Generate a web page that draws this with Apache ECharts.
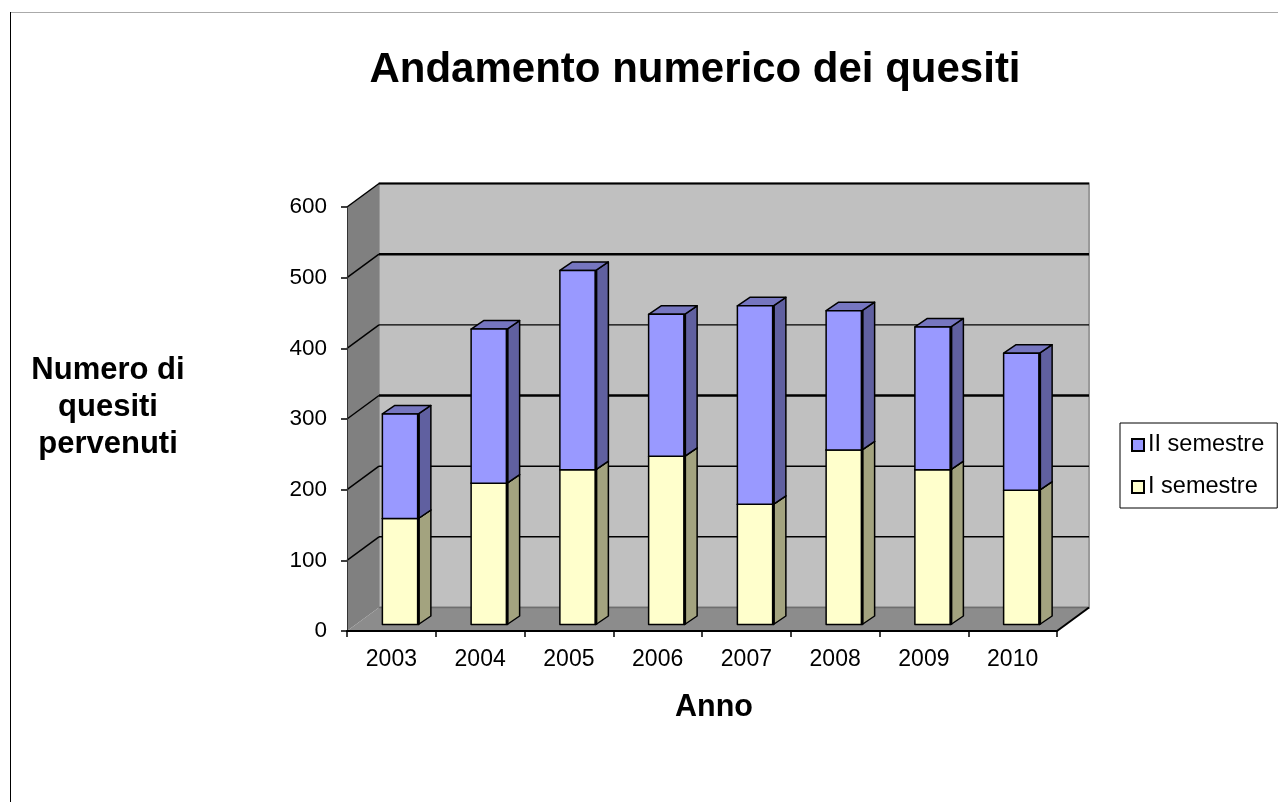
<!DOCTYPE html>
<html><head><meta charset="utf-8">
<style>html,body{margin:0;padding:0;background:#fff}#c{width:1278px;height:802px}</style>
<script src="https://cdn.jsdelivr.net/npm/echarts@6/dist/echarts.min.js"></script>
</head><body><div id="c"></div>
<script>
const years = ['2003','2004','2005','2006','2007','2008','2009','2010'];
const semesterOne = [150,200,219,238,170,247,219,190];
const semesterTwo = [148,218,282,201,281,197,202,194];
const yTicks = [0,100,200,300,400,500,600];
const gridWidths = {100:1.5,200:1.5,300:2.5,400:1.2,500:2.5,600:2};
const yAxisTitle = 'Numero di\nquesiti\npervenuti';

const FONT = '"Liberation Sans", Arial, sans-serif';
const DX = 32, DY = -23.5;          // full depth of the plot box
const BAR_W = 36, BAR_DX = 9, BAR_DY = -6.5, SIDE_DX = 12.5, SIDE_DY = -8.5;

function bar(colors) {
  return function (params, api) {
    const i = api.value(0);
    const p0 = api.coord([i, api.value(1)]);
    const p1 = api.coord([i, api.value(2)]);
    const x0 = p0[0] + BAR_DX - BAR_W / 2, x1 = x0 + BAR_W;
    const yb = p0[1] + BAR_DY, yt = p1[1] + BAR_DY;
    const stroke = {stroke:'#000', lineWidth:1.5, lineJoin:'round'};
    return {type:'group', children:[
      {type:'polygon', shape:{points:[[x1,yb],[x1+SIDE_DX,yb+SIDE_DY],[x1+SIDE_DX,yt+SIDE_DY],[x1,yt]]},
        style:Object.assign({fill:colors.side}, stroke)},
      {type:'polygon', shape:{points:[[x0,yt],[x1,yt],[x1+SIDE_DX,yt+SIDE_DY],[x0+SIDE_DX,yt+SIDE_DY]]},
        style:Object.assign({fill:colors.top}, stroke)},
      {type:'rect', shape:{x:x0,y:yt,width:BAR_W,height:yb-yt},
        style:Object.assign({fill:colors.front}, stroke)},
      {type:'line', shape:{x1:x1,y1:yt,x2:x1,y2:yb}, style:{stroke:'#000',lineWidth:3}}
    ]};
  };
}

function walls(params, api) {
  const n = years.length;
  const band = api.size([1,0])[0];
  const o = api.coord([0,0]);
  const t = api.coord([0,600]);
  const lx = o[0] - band/2, rx = lx + band*n, by = o[1], ty = t[1];
  return {type:'group', silent:true, children:[
    {type:'polygon', shape:{points:[[lx+DX,by+DY],[rx+DX,by+DY],[rx+DX,ty+DY],[lx+DX,ty+DY]]},
      style:{fill:'#c0c0c0', stroke:'#9a9a9a', lineWidth:2}},
    {type:'polygon', shape:{points:[[lx,by],[lx+DX,by+DY],[lx+DX,ty+DY],[lx,ty]]},
      style:{fill:'#808080'}},
    {type:'polygon', shape:{points:[[lx,by],[rx,by],[rx+DX,by+DY],[lx+DX,by+DY]]},
      style:{fill:'#8c8c8c'}},
    {type:'line', shape:{x1:lx+DX,y1:by+DY,x2:rx+DX,y2:by+DY}, style:{stroke:'#6e6e6e',lineWidth:1.5}},
    {type:'line', shape:{x1:rx,y1:by,x2:rx+DX,y2:by+DY}, style:{stroke:'#000',lineWidth:2}}
  ]};
}

function gridLine(params, api) {
  const v = api.value(1);
  const band = api.size([1,0])[0];
  const p = api.coord([0,v]);
  const lx = p[0] - band/2, rx = lx + band*years.length;
  const w = gridWidths[v] || 1.5;
  return {type:'group', silent:true, children:[
    {type:'line', shape:{x1:lx,y1:p[1],x2:lx+DX,y2:p[1]+DY}, style:{stroke:'#000',lineWidth:1.5}},
    {type:'line', shape:{x1:lx+DX,y1:p[1]+DY,x2:rx+DX,y2:p[1]+DY}, style:{stroke:'#000',lineWidth:w}}
  ]};
}

const chart = echarts.init(document.getElementById('c'), null, {renderer:'canvas'});
chart.setOption({
  animation:false,
  backgroundColor:'#fff',
  title:{text:'Andamento numerico dei quesiti', left:690, top:44, textAlign:'center',
    textStyle:{fontFamily:FONT,fontSize:42,fontWeight:'bold',color:'#000'}},
  legend:{
    left:1120, top:423, orient:'vertical', selectedMode:false, icon:'rect',
    data:['II semestre','I semestre'],
    backgroundColor:'#fff', borderColor:'#000', borderWidth:1,
    padding:[10,13,9,11], itemWidth:12, itemHeight:12, itemGap:18,
    textStyle:{fontFamily:FONT,fontSize:23.5,color:'#000',lineHeight:23,padding:[0,0,0,-1]}
  },
  grid:{left:347, top:207, width:710, height:424, containLabel:false},
  xAxis:{
    type:'category', data:years, z:5,
    name:'Anno', nameLocation:'middle', nameGap:61,
    nameTextStyle:{fontFamily:FONT,fontSize:30.5,fontWeight:'bold',color:'#000',padding:[0,0,0,24]},
    axisLine:{lineStyle:{color:'#000',width:2}},
    axisTick:{show:true,length:6,alignWithLabel:false,lineStyle:{color:'#000',width:1.5}},
    axisLabel:{fontFamily:FONT,fontSize:23,color:'#000',margin:17},
    splitLine:{show:false}
  },
  yAxis:{
    type:'value', min:0, max:600, interval:100, z:5,
    axisLine:{show:true,lineStyle:{color:'#333',width:1}},
    axisTick:{show:true,length:6,lineStyle:{color:'#000',width:1.5}},
    axisLabel:{fontFamily:FONT,fontSize:22.5,color:'#000',margin:20},
    splitLine:{show:false}
  },
  series:[
    {name:'walls', type:'custom', silent:true, z:1, renderItem:walls, data:[[0,0]],
      encode:{x:0,y:1}, clip:false},
    {name:'griglia', type:'custom', silent:true, z:2, renderItem:gridLine,
      data:yTicks.filter(v=>v>0).map(v=>[0,v]), encode:{x:0,y:1}, clip:false},
    {name:'I semestre', type:'custom', z:3, clip:false,
      renderItem:bar({front:'#ffffcc',side:'#a3a37f',top:'#cccca3'}),
      itemStyle:{color:'#ffffcc',borderColor:'#000',borderWidth:2},
      encode:{x:0,y:[1,2]},
      data:years.map((y,i)=>[i,0,semesterOne[i]])},
    {name:'II semestre', type:'custom', z:4, clip:false,
      renderItem:bar({front:'#9999ff',side:'#6060a0',top:'#7676c0'}),
      itemStyle:{color:'#9999ff',borderColor:'#000',borderWidth:2},
      encode:{x:0,y:[1,2]},
      data:years.map((y,i)=>[i,semesterOne[i],semesterOne[i]+semesterTwo[i]])}
  ],
  graphic:[
    {type:'line', shape:{x1:10,y1:12.5,x2:1278,y2:12.5}, style:{stroke:'#aaaaaa',lineWidth:1}},
    {type:'line', shape:{x1:10.5,y1:12,x2:10.5,y2:802}, style:{stroke:'#000',lineWidth:1}},
    {type:'text', x:108, y:407, style:{text:yAxisTitle, align:'center', verticalAlign:'middle',
      fontFamily:FONT, fontSize:31, fontWeight:'bold', fill:'#000', lineHeight:37}}
  ]
});
</script></body></html>
